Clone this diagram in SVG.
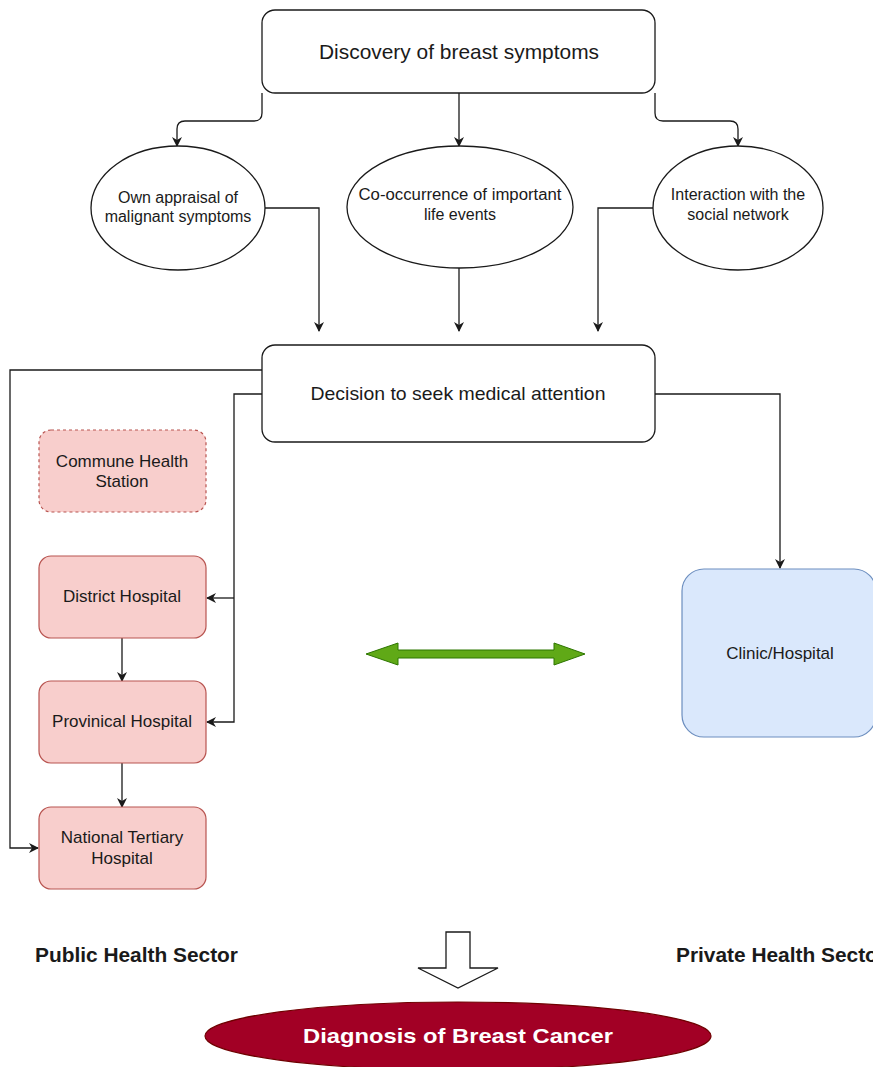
<svg xmlns="http://www.w3.org/2000/svg" width="873" height="1067" viewBox="0 0 873 1067">
<defs>
<style>
text{font-family:"Liberation Sans",Arial,sans-serif;fill:#1a1a1a;text-anchor:middle}
.box{fill:#fff;stroke:#1a1a1a;stroke-width:1.3}
.ell{fill:#fff;stroke:#1a1a1a;stroke-width:1.3}
.pub{fill:#f8cecc;stroke:#b85450;stroke-width:1.2}
.con{fill:none;stroke:#1a1a1a;stroke-width:1.3}
.t16{font-size:16px}
.t17{font-size:17px}
.lbl{font-size:20px;font-weight:bold;text-anchor:start}
</style>
<marker id="ah" viewBox="0 0 10 10" refX="9" refY="5" markerWidth="10" markerHeight="10" markerUnits="userSpaceOnUse" orient="auto">
<path d="M0,0 L10,5 L0,10 L3,5 Z" fill="#1a1a1a"/>
</marker>
</defs>
<rect width="873" height="1067" fill="#fff"/>

<g id="connectors">
<path class="con" d="M262,93 V113 Q262,121 254,121 H185 Q177,121 177,129 V146" marker-end="url(#ah)"/>
<path class="con" d="M459,93 V146" marker-end="url(#ah)"/>
<path class="con" d="M655,93 V113 Q655,121 663,121 H730 Q738,121 738,129 V146" marker-end="url(#ah)"/>
<path class="con" d="M265,208 H319 V331" marker-end="url(#ah)"/>
<path class="con" d="M459,268 V331" marker-end="url(#ah)"/>
<path class="con" d="M653,208 H598 V331" marker-end="url(#ah)"/>
<path class="con" d="M262,370 H10 V848 H38" marker-end="url(#ah)"/>
<path class="con" d="M262,394 H234 V722 H207" marker-end="url(#ah)"/>
<path class="con" d="M234,598 H207" marker-end="url(#ah)"/>
<path class="con" d="M655,394 H780 V568" marker-end="url(#ah)"/>
<path class="con" d="M122,638 V681" marker-end="url(#ah)"/>
<path class="con" d="M122,763 V807" marker-end="url(#ah)"/>
<path d="M366,654 L398,643 L398,650 L554,650 L554,643 L585,654 L554,665 L554,658 L398,658 L398,665 Z" fill="#60a917" stroke="#2d7600" stroke-width="1"/>
<path d="M446,932 H470 V968 H498 L458,988 L418,968 H446 Z" fill="#fff" stroke="#1a1a1a" stroke-width="1.3"/>
</g>

<g id="discovery">
<rect class="box" x="262" y="10" width="393" height="83" rx="13"/>
<text x="459" y="59" style="font-size:21px" textLength="280" lengthAdjust="spacingAndGlyphs">Discovery of breast symptoms</text>
</g>
<g id="own-appraisal">
<ellipse class="ell" cx="178" cy="208" rx="87" ry="62"/>
<text class="t16" x="178" y="203">Own appraisal of</text>
<text class="t16" x="178" y="222">malignant symptoms</text>
</g>
<g id="co-occurrence">
<ellipse class="ell" cx="460" cy="207" rx="113" ry="61"/>
<text class="t16" x="460" y="200" textLength="203" lengthAdjust="spacingAndGlyphs">Co-occurrence of important</text>
<text class="t16" x="460" y="220">life events</text>
</g>
<g id="interaction">
<ellipse class="ell" cx="738" cy="208" rx="85" ry="62"/>
<text class="t16" x="738" y="200">Interaction with the</text>
<text class="t16" x="738" y="220">social network</text>
</g>
<g id="decision">
<rect class="box" x="262" y="345" width="393" height="97" rx="13"/>
<text x="458" y="400" style="font-size:19px" textLength="295" lengthAdjust="spacingAndGlyphs">Decision to seek medical attention</text>
</g>
<g id="commune">
<rect class="pub" x="39" y="430" width="167" height="82" rx="12" stroke-dasharray="3 3"/>
<text class="t17" x="122" y="467">Commune Health</text>
<text class="t17" x="122" y="487">Station</text>
</g>
<g id="district">
<rect class="pub" x="39" y="556" width="167" height="82" rx="12"/>
<text class="t17" x="122" y="602">District Hospital</text>
</g>
<g id="provincial">
<rect class="pub" x="39" y="681" width="167" height="82" rx="12"/>
<text class="t17" x="122" y="727">Provinical Hospital</text>
</g>
<g id="national">
<rect class="pub" x="39" y="807" width="167" height="82" rx="12"/>
<text class="t17" x="122" y="843">National Tertiary</text>
<text class="t17" x="122" y="864">Hospital</text>
</g>
<g id="clinic">
<rect x="682" y="569" width="194" height="168" rx="22" fill="#dae8fc" stroke="#6c8ebf" stroke-width="1.2"/>
<text class="t17" x="780" y="659">Clinic/Hospital</text>
</g>
<g id="labels">
<text class="lbl" x="35" y="962" textLength="203" lengthAdjust="spacingAndGlyphs">Public Health Sector</text>
<text class="lbl" x="676" y="962" textLength="210" lengthAdjust="spacingAndGlyphs">Private Health Sector</text>
</g>
<g id="diagnosis">
<ellipse cx="458" cy="1036" rx="253" ry="34" fill="#a20025" stroke="#6f0000" stroke-width="1.2"/>
<text x="458" y="1043" style="font-size:21px;font-weight:bold;fill:#fff" textLength="310" lengthAdjust="spacingAndGlyphs">Diagnosis of Breast Cancer</text>
</g>
</svg>
